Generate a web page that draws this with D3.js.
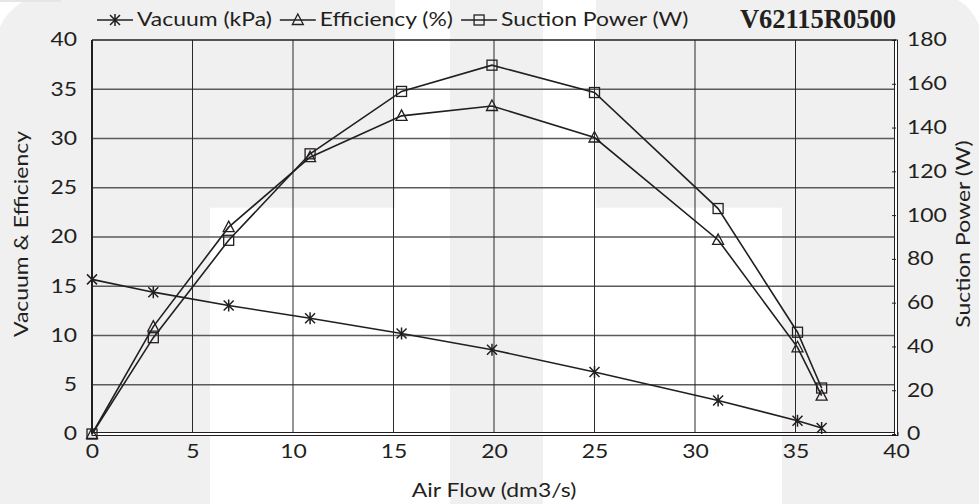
<!DOCTYPE html>
<html>
<head>
<meta charset="utf-8">
<script src="https://cdn.jsdelivr.net/npm/d3@7"></script>
<style>
  html, body { margin: 0; padding: 0; background: #fff; }
  svg { display: block; }
  text { font-family: "Lato", "Open Sans", sans-serif; fill: #231f20; }
</style>
</head>
<body>
<div id="chart"></div>
<script>
// ---- data ----
const airFlow    = [0, 3.05, 6.8, 10.85, 15.4, 19.9, 25.0, 31.15, 35.1, 36.3];
const vacuum     = [15.7, 14.4, 13.05, 11.75, 10.2, 8.55, 6.3, 3.4, 1.35, 0.6];
const efficiency = [0, 10.9, 21.0, 28.1, 32.3, 33.3, 30.1, 19.7, 8.8, 3.9];
const suction    = [0, 44, 88.5, 128, 156.5, 168.5, 156, 103, 46.5, 21];

const xTicks     = [0, 5, 10, 15, 20, 25, 30, 35, 40];
const leftTicks  = [0, 5, 10, 15, 20, 25, 30, 35, 40];
const rightTicks = [0, 20, 40, 60, 80, 100, 120, 140, 160, 180];

const legendNames = ["Vacuum (kPa)", "Efficiency (%)", "Suction Power (W)"];
const modelName   = "V62115R0500";

const W = 979, H = 504;
const margin = { top: 40, right: 83, bottom: 70, left: 92 };
const width  = W - margin.left - margin.right;
const height = H - margin.top - margin.bottom;
const ink = "#231f20";
const fontSize = 18.5;
const stretchK = 1.24;   // the original lettering is wider than Lato

// widen a text horizontally around its anchor
function stretch(sel, k) {
  sel.each(function () {
    const t = d3.select(this);
    const x0 = +t.attr("x") || 0;
    const prev = t.attr("transform") || "";
    t.attr("x", 0).attr("transform", `${prev} translate(${x0},0) scale(${k},1)`);
  });
}

const svg = d3.select("#chart").append("svg")
  .attr("width", W)
  .attr("height", H);

// ---- faint watermark in the background ----
const bg = svg.append("g");
bg.append("rect").attr("width", W).attr("height", H).attr("fill", "#f0f0f0");
bg.append("rect").attr("x", 0).attr("y", 0).attr("width", 61).attr("height", 2).attr("fill", "#e6e6e6");
bg.append("path").attr("d", "M0,2 L22,2 Q6,12 0,27 Z").attr("fill", "#fff");
bg.append("path").attr("d", "M958,0 L979,0 L979,25 Q972,8 958,0 Z").attr("fill", "#fff");
[[395, 0, 55, H], [543, 0, 53, H], [210, 207.7, 185, H - 207.7], [596, 207.7, 186, H - 207.7]]
  .forEach(r => bg.append("rect")
    .attr("x", r[0]).attr("y", r[1]).attr("width", r[2]).attr("height", r[3])
    .attr("fill", "#fff"));

const g = svg.append("g")
  .attr("transform", `translate(${margin.left},${margin.top})`);

const x  = d3.scaleLinear().domain([0, 40]).range([0, width]);
const yL = d3.scaleLinear().domain([0, 40]).range([height, 0]);
const yR = d3.scaleLinear().domain([0, 180]).range([height, 0]);

// ---- grid ----
g.append("g")
  .selectAll("line")
  .data(leftTicks.slice(1, -1))
  .join("line")
  .attr("x1", 0).attr("x2", width)
  .attr("y1", d => yL(d)).attr("y2", d => yL(d))
  .attr("stroke", "#5a5a5a").attr("stroke-width", 1.3);

g.append("g")
  .selectAll("line")
  .data(xTicks.slice(1, -1))
  .join("line")
  .attr("y1", 0).attr("y2", height)
  .attr("x1", d => x(d)).attr("x2", d => x(d))
  .attr("stroke", "#2a2a2a").attr("stroke-width", 1);

// ---- frame ----
g.append("line").attr("x1", 0).attr("x2", width).attr("y1", 0).attr("y2", 0)
  .attr("stroke", ink).attr("stroke-width", 1.5);
g.append("line").attr("x1", 0).attr("x2", 0).attr("y1", 0).attr("y2", height)
  .attr("stroke", ink).attr("stroke-width", 2);
g.append("rect").attr("x", 0).attr("y", height - 1.5).attr("width", width + 2).attr("height", 3)
  .attr("fill", "#fff").attr("stroke", ink).attr("stroke-width", 1);
g.append("rect").attr("x", width - 1.5).attr("y", 0).attr("width", 3).attr("height", height + 1.5)
  .attr("fill", "#fff").attr("stroke", ink).attr("stroke-width", 1);

// ---- axes (labels only, the grid does the rest) ----
const xAxis = g.append("g")
  .attr("transform", `translate(0,${height})`)
  .call(d3.axisBottom(x).tickValues(xTicks).tickSize(0).tickPadding(10));
xAxis.select(".domain").remove();
xAxis.selectAll("text").style("font-size", fontSize + "px").attr("dy", "0.78em");
stretch(xAxis.selectAll("text"), stretchK);

const leftAxis = g.append("g")
  .call(d3.axisLeft(yL).tickValues(leftTicks).tickSize(0).tickPadding(15));
leftAxis.select(".domain").remove();
leftAxis.selectAll("text").style("font-size", fontSize + "px");
stretch(leftAxis.selectAll("text"), stretchK);

const rightAxis = g.append("g")
  .attr("transform", `translate(${width},0)`)
  .call(d3.axisRight(yR).tickValues(rightTicks).tickSizeInner(-4).tickSizeOuter(0).tickPadding(11));
rightAxis.select(".domain").remove();
rightAxis.selectAll("line").attr("stroke", ink);
rightAxis.selectAll("text").style("font-size", fontSize + "px");
stretch(rightAxis.selectAll("text"), stretchK);

// axis titles
const titles = [
  { t: "Air Flow (dm3/s)",    tr: `translate(${margin.left + width / 2},497)` },
  { t: "Vacuum & Efficiency", tr: `translate(28,${margin.top + height / 2 - 3}) rotate(-90)` },
  { t: "Suction Power (W)",   tr: `translate(970,${margin.top + height / 2 - 3}) rotate(-90)` }
];
titles.forEach(d => {
  const t = svg.append("text")
    .attr("transform", d.tr)
    .attr("text-anchor", "middle")
    .style("font-size", fontSize + "px")
    .text(d.t);
  stretch(t, stretchK);
});

// ---- markers ----
function marker(sel, kind) {
  if (kind === "star") {
    sel.append("path")
      .attr("d", "M-5,-5L5,5M-5,5L5,-5M0,-6L0,6")
      .attr("stroke", ink).attr("stroke-width", 1.5).attr("fill", "none");
  } else if (kind === "tri") {
    sel.append("path")
      .attr("d", "M0,-6L5.5,4.5L-5.5,4.5Z")
      .attr("stroke", ink).attr("stroke-width", 1.3).attr("fill", "none");
  } else {
    sel.append("rect")
      .attr("x", -5).attr("y", -5).attr("width", 10).attr("height", 10)
      .attr("stroke", ink).attr("stroke-width", 1.3).attr("fill", "none");
  }
}

const series = [
  { name: legendNames[0], values: vacuum,     y: yL, kind: "star" },
  { name: legendNames[1], values: efficiency, y: yL, kind: "tri" },
  { name: legendNames[2], values: suction,    y: yR, kind: "sq" }
];

series.forEach(s => {
  const pts = airFlow.map((a, i) => [a, s.values[i]]);
  const line = d3.line().x(d => x(d[0])).y(d => s.y(d[1]));
  g.append("path")
    .attr("d", line(pts))
    .attr("fill", "none")
    .attr("stroke", ink)
    .attr("stroke-width", 1.6);
  g.append("g")
    .selectAll("g")
    .data(pts)
    .join("g")
    .attr("transform", d => `translate(${x(d[0])},${s.y(d[1])})`)
    .each(function () { marker(d3.select(this), s.kind); });
});

// ---- legend ----
const legend = svg.append("g").attr("transform", "translate(97,20)");
let lx = 0;
series.forEach(s => {
  const item = legend.append("g").attr("transform", `translate(${lx},0)`);
  item.append("line").attr("x1", 0).attr("x2", 36).attr("y1", 0).attr("y2", 0)
    .attr("stroke", ink).attr("stroke-width", 1.6);
  marker(item.append("g").attr("transform", "translate(18,0)"), s.kind);
  const t = item.append("text")
    .attr("x", 40).attr("y", 0).attr("dy", "0.35em")
    .style("font-size", fontSize + "px")
    .text(s.name);
  const len = t.node().getComputedTextLength() * stretchK;
  stretch(t, stretchK);
  lx += 40 + len + 8;
});

svg.append("text")
  .attr("x", margin.left + width)
  .attr("y", 28)
  .attr("text-anchor", "end")
  .style("font-family", "'Liberation Serif', serif")
  .style("font-weight", "bold")
  .style("font-size", "26.5px")
  .text(modelName);
</script>
</body>
</html>
